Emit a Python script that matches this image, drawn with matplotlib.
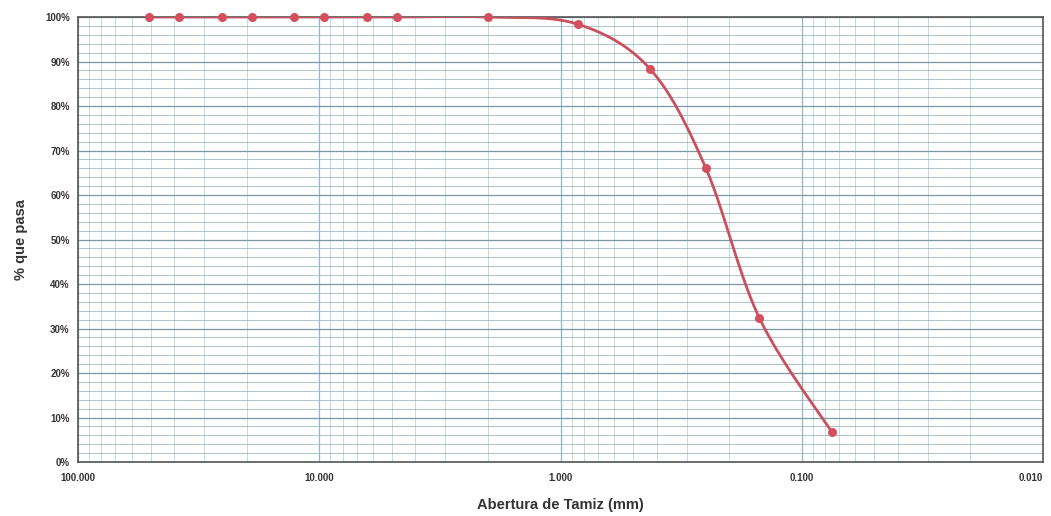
import numpy as np
import matplotlib
matplotlib.use("Agg")
import matplotlib.pyplot as plt
from matplotlib.ticker import FixedLocator, FuncFormatter, MultipleLocator, LogLocator

# Abertura de tamiz (mm) y porcentaje que pasa
abertura = [50.8, 38.1, 25.4, 19.05, 12.7, 9.525, 6.35, 4.76, 2.0, 0.85, 0.425, 0.25, 0.15, 0.075]
pasa = [100.0, 100.0, 100.0, 100.0, 100.0, 100.0, 100.0, 100.0, 100.0, 98.4, 88.3, 66.1, 32.4, 6.7]

x_ticks = [100, 10, 1, 0.1, 0.01]
x_tick_labels = ["100.000", "10.000", "1.000", "0.100", "0.010"]

plt.rcParams['font.family'] = ['Liberation Sans', 'DejaVu Sans']

fig = plt.figure(figsize=(10.51, 5.16), dpi=100)
ax = fig.add_axes([78 / 1051, 1 - 462 / 516, (1043 - 78) / 1051, (462 - 17) / 516])

# smooth curve (Excel-like bezier) through the measured points, in log space
u = np.log10(abertura)
v = np.array(pasa) / 100.0 * (445 / 241)  # scale so decades and % have pixel aspect
pts = np.column_stack([u, v])
curve = []
for i in range(len(pts) - 1):
    p0 = pts[max(i - 1, 0)]
    p1 = pts[i]
    p2 = pts[i + 1]
    p3 = pts[min(i + 2, len(pts) - 1)]
    c1 = p1 + (p2 - p0) / 6.0
    c2 = p2 - (p3 - p1) / 6.0
    t = np.linspace(0, 1, 40)[:, None]
    seg = ((1 - t) ** 3) * p1 + 3 * ((1 - t) ** 2) * t * c1 + 3 * (1 - t) * t ** 2 * c2 + t ** 3 * p2
    curve.append(seg)
curve = np.vstack(curve)
ax.plot(10 ** curve[:, 0], curve[:, 1] * 100.0 / (445 / 241), color="#c9505c", lw=2.0, zorder=3)
ax.plot(abertura, pasa, "o", color="#d4505c", ms=5.5, zorder=4, clip_on=False)

ax.set_xscale("log")
ax.set_xlim(100, 0.01)
ax.set_ylim(0, 100)

ax.xaxis.set_major_locator(FixedLocator(x_ticks))
ax.xaxis.set_major_formatter(FuncFormatter(lambda val, pos: x_tick_labels[x_ticks.index(min(x_ticks, key=lambda t: abs(np.log10(t) - np.log10(val))))]))
ax.xaxis.set_minor_locator(LogLocator(base=10, subs=np.arange(2, 10)))
ax.xaxis.set_minor_formatter(FuncFormatter(lambda val, pos: ""))
ax.yaxis.set_major_locator(MultipleLocator(10))
ax.yaxis.set_minor_locator(MultipleLocator(2))
ax.yaxis.set_major_formatter(FuncFormatter(lambda val, pos: f"{val:.0f}%"))

ax.grid(True, which="major", axis="y", color="#7d97a3", lw=0.9)
ax.grid(True, which="minor", axis="y", color="#a3b9c2", lw=0.6)
ax.grid(True, which="major", axis="x", color="#8fb8c6", lw=0.9)
ax.grid(True, which="minor", axis="x", color="#bcdde7", lw=0.7)

ax.tick_params(which="both", length=0)
ax.tick_params(axis="x", pad=8, labelsize=7, colors="#333333")
ax.tick_params(axis="y", pad=6, labelsize=7, colors="#333333")
for lab in ax.get_xticklabels() + ax.get_yticklabels():
    lab.set_fontweight("bold")
# last label sits at the right edge of the figure; keep it inside
fig.canvas.draw()
ax.get_xticklabels()[-1].set_horizontalalignment("right")

for s in ax.spines.values():
    s.set_color("#555555")
    s.set_linewidth(1.2)

ax.set_xlabel("Abertura de Tamiz (mm)", fontsize=10.5, fontweight="bold", color="#333333", labelpad=11)
ax.set_ylabel("% que pasa", fontsize=10.5, fontweight="bold", color="#333333", labelpad=12)

fig.savefig("out.png", dpi=100)
